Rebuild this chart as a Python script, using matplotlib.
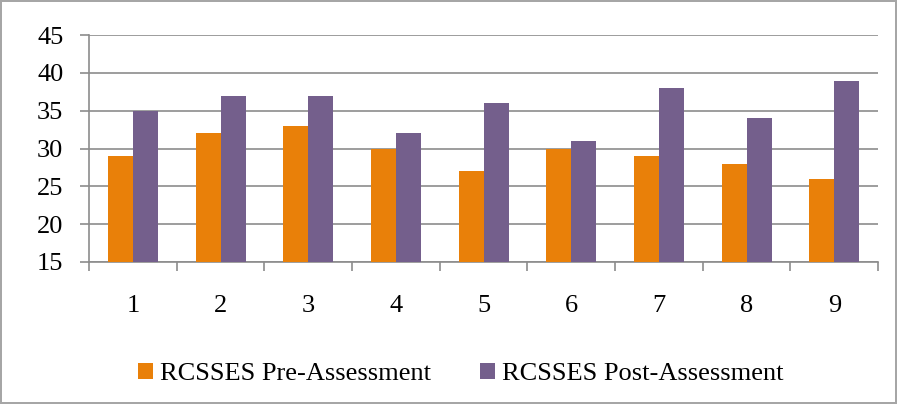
import matplotlib.pyplot as plt
import numpy as np

plt.rcParams['font.family'] = ['Liberation Serif', 'DejaVu Serif']

# scores per item
items = ['1', '2', '3', '4', '5', '6', '7', '8', '9']
pre_scores = [29, 32, 33, 30, 27, 30, 29, 28, 26]
post_scores = [35, 37, 37, 32, 36, 31, 38, 34, 39]

ORANGE = '#E98009'
PURPLE = '#745F8C'
GRID = '#8C8C8C'

fig = plt.figure(figsize=(8.97, 4.04), dpi=100)
fig.patch.set_edgecolor('#A6A6A6')
fig.patch.set_linewidth(1.5)
ax = fig.add_axes([0.0992, 0.3515, 0.8798, 0.5615])

x = np.arange(len(items))
w = 0.285
ax.bar(x - w / 2, np.array(pre_scores) - 15, w, bottom=15, color=ORANGE,
       label='RCSSES Pre-Assessment', zorder=3)
ax.bar(x + w / 2, np.array(post_scores) - 15, w, bottom=15, color=PURPLE,
       label='RCSSES Post-Assessment', zorder=3)

ax.set_xlim(-0.5, len(items) - 0.5)
ax.set_ylim(15, 45)
ax.set_yticks(range(15, 46, 5))
ax.yaxis.grid(True, color=GRID, linewidth=1.2, zorder=0)

# category labels centred, tick marks between categories
ax.set_xticks(x)
ax.set_xticklabels(items)
ax.set_xticks(np.arange(-0.5, len(items), 1), minor=True)
ax.tick_params(axis='x', which='major', length=0, pad=24, labelsize=19)
ax.tick_params(axis='x', which='minor', length=6.5, width=1.2, color=GRID)
ax.tick_params(axis='y', length=6.5, width=1.2, color=GRID, labelsize=19, pad=12)

for side in ['top', 'right']:
    ax.spines[side].set_visible(False)
for side in ['left', 'bottom']:
    ax.spines[side].set_color(GRID)
    ax.spines[side].set_linewidth(1.2)

ax.legend(loc='center', bbox_to_anchor=(0.471, -0.493), ncol=2, frameon=False,
          fontsize=19, handlelength=0.57, handleheight=0.57, handletextpad=0.27,
          columnspacing=1.85, borderpad=0, borderaxespad=0)

fig.savefig('out.png', dpi=100)
